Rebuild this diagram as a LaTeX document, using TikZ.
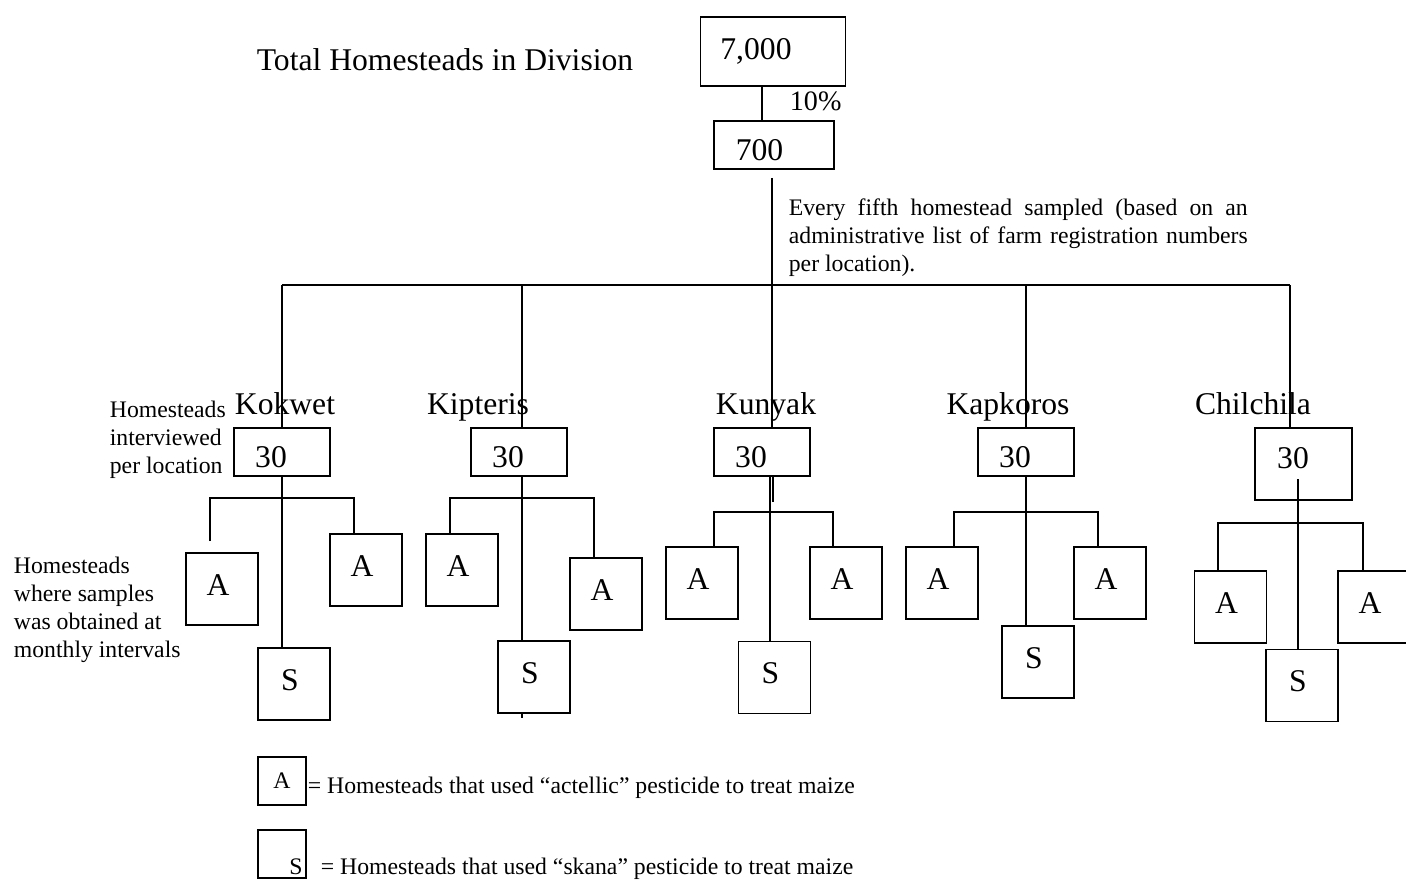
\documentclass[tikz,border=0pt]{standalone}
\usepackage{fontspec}
\setmainfont{Liberation Serif}
\usetikzlibrary{calc}

\begin{document}
\begin{tikzpicture}[x=0.02cm, y=-0.02cm, line width=1pt,
    box/.style={draw=black, inner sep=0pt},
    txt/.style={font=\fontsize{18}{21}\selectfont, inner sep=0pt, text depth=0pt},
    note/.style={font=\fontsize{13.5}{15.94}\selectfont, inner sep=0pt},
    numbox/.style={box, minimum width=1.92cm, minimum height=0.96cm, label={[txt, xshift=-0.22cm, yshift=-0.09cm]center:#1}},
    abox/.style={box, minimum size=1.44cm, label={[txt, xshift=-0.08cm, yshift=0.08cm]center:#1}},
    keybox/.style={box, minimum size=0.96cm, note}
    ]
    \useasboundingbox (0,0) rectangle (1406,880);

    % division and sample
    \node[txt, anchor=base] (title) at (445,70) {Total Homesteads in Division};
    \node[box, minimum width=2.9cm, minimum height=1.38cm, label={[txt, xshift=-0.34cm, yshift=0.06cm]center:7,000}] (div) at (773,51.5) {};
    \node[box, minimum width=2.4cm, minimum height=0.96cm, label={[txt, xshift=-0.29cm, yshift=-0.09cm]center:700}] (smp) at (774,145) {};
    \node[font=\fontsize{16}{19}\selectfont, inner sep=0pt, anchor=base west] (pct) at (789,110) {10\%};
    \coordinate (dj) at ([xshift=-0.22cm]div.south);
    \draw (dj) -- (dj |- smp.north);
    \node[note, anchor=north west, align=left] (rule) at (788,198) {\makebox[9.18cm][s]{Every fifth homestead sampled (based on an}\\\makebox[9.18cm][s]{administrative list of farm registration numbers}\\per location).};

    % locations
    \node[txt, anchor=base] (kokName) at (285,414) {Kokwet};
    \node[txt, anchor=base] (kipName) at (478,414) {Kipteris};
    \node[txt, anchor=base] (kunName) at (766,414) {Kunyak};
    \node[txt, anchor=base] (kapName) at (1008,414) {Kapkoros};
    \node[txt, anchor=base] (chilName) at (1253,414) {Chilchila};

    \node[numbox=30] (kok) at (282,452) {};
    \node[numbox=30] (kip) at (519,452) {};
    \node[numbox=30] (kun) at (762,452) {};
    \node[numbox=30] (kap) at (1026,452) {};
    \node[box, minimum width=1.94cm, minimum height=1.44cm, label={[txt, xshift=-0.21cm, yshift=0.13cm]center:30}] (chil) at (1303.5,464) {};

    \node[note, anchor=north west, align=left] (perLoc) at (109,400) {Homesteads\\interviewed\\per location};
    \node[note, anchor=north west, align=left] (monthly) at (13,556) {Homesteads\\where samples\\was obtained at\\monthly intervals};

    % main bar
    \coordinate (bar) at (0,285);
    \coordinate (chilD) at (1290,285);
    \coordinate (kipJ) at (522,498);
    \coordinate (tr) at ($(smp.south)+(-2,8)$);
    \draw (tr) -- (tr |- kun.north);
    \draw (kok.north |- bar) -- (chilD);
    \draw (kok.north |- bar) -- (kok.north);
    \draw (kipJ |- bar) -- (kipJ |- kip.north);
    \draw (kap.north |- bar) -- (kap.north);
    \draw (chilD) -- (chilD |- chil.north);

    % Kokwet
    \node[abox=A] (kokA1) at (222,589) {};
    \node[abox=A] (kokA2) at (366,570) {};
    \node[abox=S] (kokS) at (294,684) {};
    \coordinate (kokJ) at (282,498);
    \draw (kok.south) -- (kokS.north -| kok.south);
    \draw ([xshift=-0.24cm,yshift=0.22cm]kokA1.north) |- (kokJ) -| ([xshift=-0.24cm]kokA2.north);

    % Kipteris
    \node[abox=A] (kipA1) at (462,570) {};
    \node[abox=A] (kipA2) at (606,594) {};
    \node[abox=S] (kipS) at (534,677) {};
    \draw (kipJ |- kip.south) -- (kipJ |- kipS.north);
    \draw (kipJ |- kipS.south) -- ++(0,4);
    \draw ([xshift=-0.24cm]kipA1.north) |- (kipJ) -| ([xshift=-0.24cm]kipA2.north);

    % Kunyak
    \node[abox=A] (kunA1) at (702,583) {};
    \node[abox=A] (kunA2) at (846,583) {};
    \node[abox=S] (kunS) at (774.5,677.5) {};
    \coordinate (kunJ) at (770,512);
    \coordinate (kunK) at (773,512);
    \draw (kunJ |- kun.south) -- (kunJ |- kunS.north);
    \draw (kunK |- kun.south) -- ++(0,25);
    \draw ([xshift=0.24cm]kunA1.north) |- (kunJ) -| ([xshift=-0.26cm]kunA2.north);

    % Kapkoros
    \node[abox=A] (kapA1) at (942,583) {};
    \node[abox=A] (kapA2) at (1110,583) {};
    \node[abox=S] (kapS) at (1038,662) {};
    \coordinate (kapJ) at (1026,512);
    \draw (kap.south) -- (kap.south |- kapS.north);
    \draw ([xshift=0.24cm]kapA1.north) |- (kapJ) -| ([xshift=-0.24cm]kapA2.north);

    % Chilchila
    \node[abox=A] (chilA1) at (1230.5,607) {};
    \node[abox=A] (chilA2) at (1374,607) {};
    \node[abox=S] (chilS) at (1302,685.5) {};
    \coordinate (chilJ) at (1298,523);
    \draw (chilJ |- chil.center) ++(0,15) -- (chilJ |- chilS.north);
    \draw ([xshift=-0.25cm]chilA1.north) |- (chilJ) -| ([xshift=-0.22cm]chilA2.north);

    % key
    \node[keybox] (keyA) at (282,781) {A};
    \node[keybox, label={[note, xshift=0.28cm, yshift=-0.25cm]center:S}] (keyS) at (282,854) {};
    \node[note, anchor=base west] (keyAtxt) at (307,793) {= Homesteads that used “actellic” pesticide to treat maize};
    \node[note, anchor=base west] (keyStxt) at (320,874) {= Homesteads that used “skana” pesticide to treat maize};
\end{tikzpicture}
\end{document}
